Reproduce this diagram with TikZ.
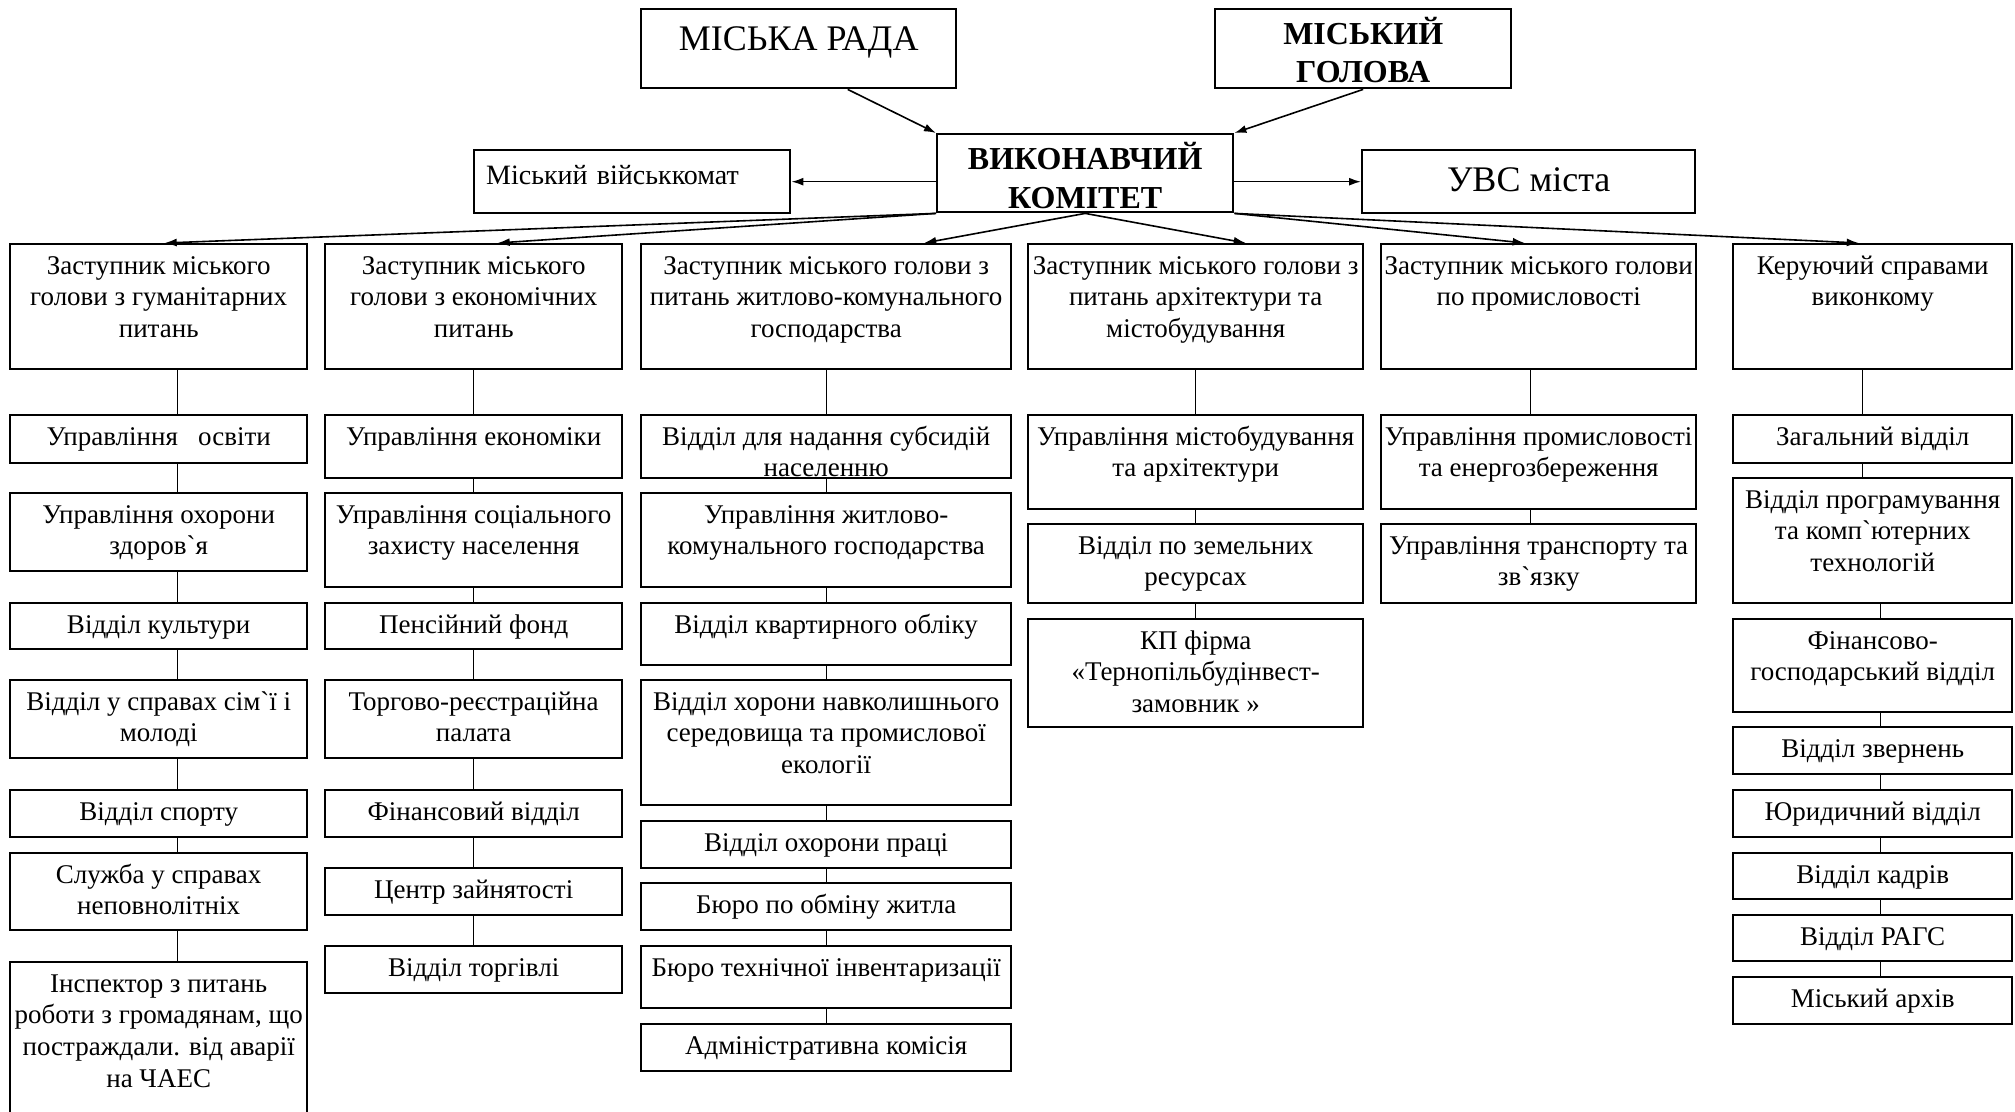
\documentclass[tikz,border=0pt]{standalone}
\usepackage{fontspec}
\setmainfont{Liberation Serif}[Ligatures=TeXOff]
\usetikzlibrary{arrows.meta}

\tikzset{
  unitbox/.style={draw, line width=1.2pt, inner sep=0pt,
    text height=15pt, font=\fontsize{13.5}{15.8}\selectfont},
  headbox/.style={draw, line width=1.2pt, inner sep=0pt, anchor=north west},
  link/.style={line width=0.7pt},
  arr/.style={line width=0.8pt, -{Latex[length=6pt,width=4pt]}},
}

% centred lines, first baseline on top
\newcommand{\txtlines}[1]{\begin{tabular}[t]{@{}c@{}}#1\end{tabular}}

% box given by its top left and bottom right corner (in pixels)
\newcommand{\orgbox}[6]{%
  \pgfmathsetmacro\bxw{(#4-#2)*0.5}%
  \pgfmathsetmacro\bxd{(#5-#3)*0.5-15}%
  \node[unitbox, minimum width=\bxw pt, text depth=\bxd pt, anchor=north west] (#1) at (#2,#3) {\txtlines{#6}};}

\begin{document}
\begin{tikzpicture}[x=0.5pt, y=-0.5pt]
    \useasboundingbox (0,0) rectangle (2015,1112);
    \clip (0,0) rectangle (2015,1112);

    % top level
    \node[headbox, minimum width=157.5pt, text height=20.5pt, text depth=19pt,
      font=\fontsize{18}{21}\selectfont] (rada) at (640,8) {МІСЬКА РАДА};
    \node[headbox, minimum width=148pt, text height=17.5pt, text depth=22pt,
      font=\fontsize{16}{19}\selectfont\bfseries] (holova) at (1214,8) {\txtlines{МІСЬКИЙ\\ГОЛОВА}};
    \node[headbox, minimum width=148pt, text height=17.5pt, text depth=21.5pt,
      font=\fontsize{16}{19.5}\selectfont\bfseries] (vk) at (936,133) {\txtlines{ВИКОНАВЧИЙ\\КОМІТЕТ}};
    \node[headbox, align=left, inner xsep=6pt, text width=146pt, text height=17pt, text depth=14.5pt,
      font=\fontsize{14}{16}\selectfont] (vijsk) at (473,149) {Міський військкомат};
    \node[headbox, minimum width=166.5pt, text height=20.5pt, text depth=11pt,
      font=\fontsize{18}{21}\selectfont] (uvs) at (1361,149) {УВС міста};

    \draw[arr] ([xshift=24.5pt]rada.south) -- (vk.north west);
    \draw[arr] (holova.south) -- (vk.north east);
    \draw[arr] (vijsk.east -| vk.west) -- (vijsk.east);
    \draw[arr] (uvs.west -| vk.east) -- (uvs.west);

    % deputies
    \orgbox{z1}{9}{243}{306}{368}{Заступник міського\\голови з гуманітарних\\питань}
    \orgbox{z2}{324}{243}{621}{368}{Заступник міського\\голови з економічних\\питань}
    \orgbox{z3}{640}{243}{1010}{368}{Заступник міського голови з\\питань житлово-комунального\\господарства}
    \orgbox{z4}{1027}{243}{1362}{368}{Заступник міського голови з\\питань архітектури та\\містобудування}
    \orgbox{z5}{1380}{243}{1695}{368}{Заступник міського голови\\по промисловості}
    \orgbox{z6}{1732}{243}{2011}{368}{Керуючий справами\\виконкому}

    \foreach \src/\dst/\dx in {south west/z1/3, south west/z2/12, south/z3/49,
        south/z4/25, south east/z5/-7, south east/z6/-7}
      \draw[arr] (vk.\src) -- ([xshift=\dx pt]\dst.north);

    % humanitarian
    \orgbox{c1a}{9}{414}{306}{462}{Управління\ \ \ освіти}
    \orgbox{c1b}{9}{492}{306}{570}{Управління охорони\\здоров`я}
    \orgbox{c1c}{9}{602}{306}{648}{Відділ культури}
    \orgbox{c1d}{9}{679}{306}{757}{Відділ у справах сім`ї і\\молоді}
    \orgbox{c1e}{9}{789}{306}{836}{Відділ спорту}
    \orgbox{c1f}{9}{852}{306}{929}{Служба у справах\\неповнолітніх}
    \orgbox{c1g}{9}{961}{306}{1125}{Інспектор з питань\\роботи з громадянам, що\\постраждали. від аварії\\на ЧАЕС}

    % economy
    \orgbox{c2a}{324}{414}{621}{477}{Управління економіки}
    \orgbox{c2b}{324}{492}{621}{586}{Управління соціального\\захисту населення}
    \orgbox{c2c}{324}{602}{621}{648}{Пенсійний фонд}
    \orgbox{c2d}{324}{679}{621}{757}{Торгово-реєстраційна\\палата}
    \orgbox{c2e}{324}{789}{621}{836}{Фінансовий відділ}
    \orgbox{c2f}{324}{867}{621}{914}{Центр зайнятості}
    \orgbox{c2g}{324}{945}{621}{992}{Відділ торгівлі}

    % housing
    \orgbox{c3a}{640}{414}{1010}{477}{Відділ для надання субсидій\\населенню}
    \orgbox{c3b}{640}{492}{1010}{586}{Управління житлово-\\комунального господарства}
    \orgbox{c3c}{640}{602}{1010}{664}{Відділ квартирного обліку}
    \orgbox{c3d}{640}{679}{1010}{804}{Відділ хорони навколишнього\\середовища та промислової\\екології}
    \orgbox{c3e}{640}{820}{1010}{867}{Відділ охорони праці}
    \orgbox{c3f}{640}{882}{1010}{929}{Бюро по обміну житла}
    \orgbox{c3g}{640}{945}{1010}{1007}{Бюро технічної інвентаризації}
    \orgbox{c3h}{640}{1023}{1010}{1070}{Адміністративна комісія}

    % architecture
    \orgbox{c4a}{1027}{414}{1362}{508}{Управління містобудування\\та архітектури}
    \orgbox{c4b}{1027}{523}{1362}{602}{Відділ по земельних\\ресурсах}
    \orgbox{c4c}{1027}{618}{1362}{726}{КП фірма\\«Тернопільбудінвест-\\замовник »}

    % industry
    \orgbox{c5a}{1380}{414}{1695}{508}{Управління промисловості\\та енергозбереження}
    \orgbox{c5b}{1380}{523}{1695}{602}{Управління транспорту та\\зв`язку}

    % executive office
    \orgbox{c6a}{1732}{414}{2011}{462}{Загальний відділ}
    \orgbox{c6b}{1732}{477}{2011}{602}{Відділ програмування\\та комп`ютерних\\технологій}
    \orgbox{c6c}{1732}{618}{2011}{711}{Фінансово-\\господарський відділ}
    \orgbox{c6d}{1732}{726}{2011}{773}{Відділ звернень}
    \orgbox{c6e}{1732}{789}{2011}{836}{Юридичний відділ}
    \orgbox{c6f}{1732}{852}{2011}{898}{Відділ кадрів}
    \orgbox{c6g}{1732}{914}{2011}{960}{Відділ РАГС}
    \orgbox{c6h}{1732}{976}{2011}{1023}{Міський архів}

    \foreach \a/\b in {z1/c1a,c1a/c1b,c1b/c1c,c1c/c1d,c1d/c1e,c1e/c1f,c1f/c1g}
      \draw[link] ([xshift=9.5pt]\a.south) -- ([xshift=9.5pt]\b.north);
    \foreach \a/\b in {z2/c2a,c2a/c2b,c2b/c2c,c2c/c2d,c2d/c2e,c2e/c2f,c2f/c2g,
        z3/c3a,c3a/c3b,c3b/c3c,c3c/c3d,c3d/c3e,c3e/c3f,c3f/c3g,c3g/c3h,
        z4/c4a,c4a/c4b,c4b/c4c}
      \draw[link] (\a.south) -- (\b.north);
    \foreach \a/\b in {z5/c5a,c5a/c5b}
      \draw[link] ([xshift=-4pt]\a.south) -- ([xshift=-4pt]\b.north);
    \foreach \a/\b/\dx in {z6/c6a/-5,c6a/c6b/-5,c6b/c6c/4,c6c/c6d/4,c6d/c6e/4,
        c6e/c6f/4,c6f/c6g/4,c6g/c6h/4}
      \draw[link] ([xshift=\dx pt]\a.south) -- ([xshift=\dx pt]\b.north);
\end{tikzpicture}
\end{document}
